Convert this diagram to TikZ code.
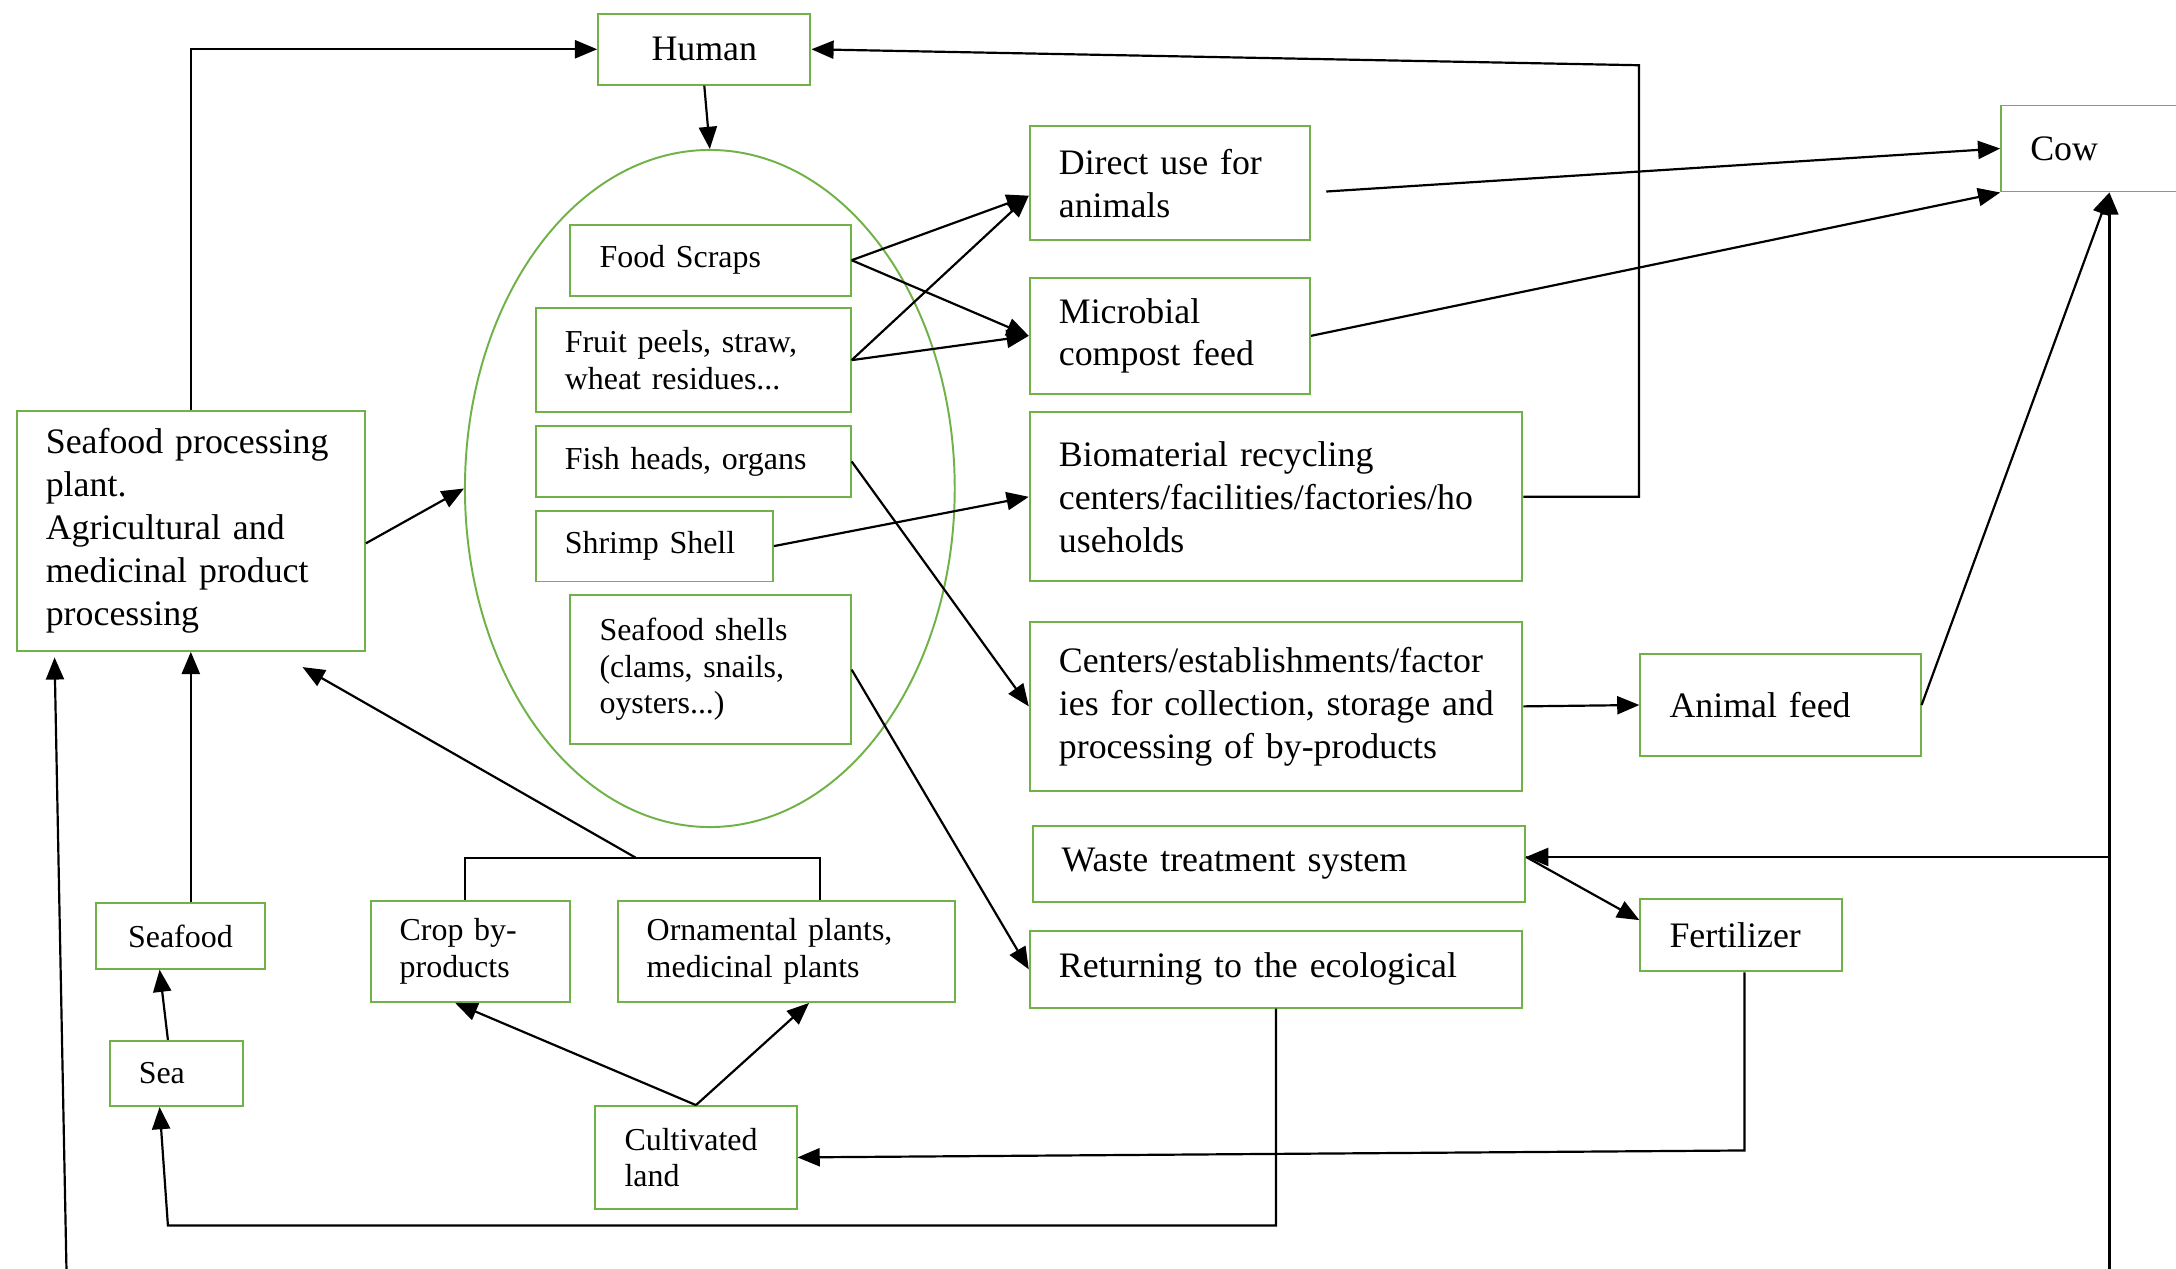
\documentclass[tikz,border=0pt]{standalone}
\usepackage{fontspec}
\setmainfont{Liberation Serif}
\usetikzlibrary{arrows.meta,shapes.geometric}
\definecolor{boxgreen}{RGB}{112,178,72}
\tikzset{
  box/.style={draw=boxgreen,line width=0.8pt,align=left,inner xsep=0.42cm,inner ysep=0pt,
    font=\fontsize{14.7}{17.6}\selectfont},
  sbox/.style={box,font=\fontsize{13.1}{15}\selectfont},
  arr/.style={line width=0.9pt,-{Triangle[length=3.2mm,width=2.6mm]}},
  link/.style={line width=0.9pt}
}

\begin{document}
\begin{tikzpicture}[x=0.02cm,y=-0.02cm]
\useasboundingbox (0,0) rectangle (1568,914);
\clip (0,0) rectangle (1568,914);
\node[box,minimum width=3.06cm,minimum height=1.02cm] (human) at (507.5,35.5) {Human};
\node[draw=boxgreen,line width=0.8pt,ellipse,minimum width=7.06cm,minimum height=9.76cm,inner sep=0pt] (bag) at (511.5,352) {};
\node[sbox,minimum width=4.04cm,minimum height=1.02cm,text width=3.2cm] (food) at (512,187.5) {Food Scraps};
\node[sbox,minimum width=4.54cm,minimum height=1.5cm,text width=3.7cm] (fruit) at (499.5,259.5) {Fruit peels, straw,\\wheat residues...};
\node[sbox,minimum width=4.54cm,minimum height=1.02cm,text width=3.7cm] (fish) at (499.5,332.5) {Fish heads, organs};
\node[sbox,minimum width=3.42cm,minimum height=1.02cm,text width=2.58cm] (shrimp) at (471.5,393.5) {Shrimp Shell};
\node[sbox,minimum width=4.04cm,minimum height=2.14cm,text width=3.2cm] (shells) at (512,482.5) {Seafood shells\\(clams, snails,\\oysters...)};

\node[box,minimum width=5.02cm,minimum height=3.46cm,text width=4.18cm] (plant) at (137.5,382.5)
  {Seafood processing\\plant.\\Agricultural and\\medicinal product\\processing};
\node[sbox,minimum width=2.44cm,minimum height=0.94cm] (seafood) at (130,674.5) {Seafood};
\node[sbox,minimum width=1.92cm,minimum height=0.94cm,text width=1.08cm] (sea) at (127,773.5) {Sea};
\node[sbox,minimum width=2.88cm,minimum height=1.46cm,text width=2.04cm] (crop) at (339,685.5) {Crop by-\\products};
\node[sbox,minimum width=4.86cm,minimum height=1.46cm,text width=4.02cm] (orn) at (566.5,685.5) {Ornamental plants,\\medicinal plants};
\node[sbox,minimum width=2.9cm,minimum height=1.48cm,text width=2.06cm] (land) at (501.5,834) {Cultivated\\land};

\node[box,minimum width=4.04cm,minimum height=1.64cm,text width=3.2cm] (direct) at (843,132) {Direct use for\\animals};
\node[box,minimum width=4.04cm,minimum height=1.68cm,text width=3.2cm] (microbe) at (843,242) {Microbial\\compost feed};
\node[box,minimum width=7.1cm,minimum height=2.44cm,text width=6.26cm] (bio) at (919.5,358)
  {Biomaterial recycling\\centers/facilities/factories/ho\\useholds};
\node[box,minimum width=7.1cm,minimum height=2.44cm,text width=6.26cm] (centers) at (919.5,509)
  {Centers/establishments/factor\\\mbox{ies for collection, storage and}\\processing of by-products};
\node[box,minimum width=7.1cm,minimum height=1.1cm,text width=6.26cm] (waste) at (921.5,622.5) {Waste treatment system};
\node[box,minimum width=7.1cm,minimum height=1.1cm,text width=6.26cm] (back) at (919.5,698.5) {Returning to the ecological};
\node[box,minimum width=3.12cm,minimum height=1.24cm,text width=2.28cm] (cow) at (1520,107) {Cow};
\node[box,minimum width=4.04cm,minimum height=1.48cm,text width=3.2cm] (feed) at (1283,508) {Animal feed};
\node[box,minimum width=2.9cm,minimum height=1.04cm,text width=2.06cm] (fert) at (1254.5,674) {Fertilizer};

\coordinate (turn) at (1181,47);
\coordinate (fc) at (1257,829);
\coordinate (sc) at (121,883);
\coordinate (join) at (458,618);
\coordinate (lb) at (48,920);
\coordinate (rb) at (1520,920);
\coordinate (wt) at ([yshift=0.1cm]waste.east);

\draw[arr] (plant.north) |- (human.west);
\draw[arr] (human.south) -- (bag.north);
\draw[arr] ([yshift=-0.18cm]plant.east) -- (bag.west);
\draw[arr] (bio.east) -| (turn) -- (human.east);
\draw[arr] (food.east) -- ([yshift=-0.18cm]direct.west);
\draw[arr] (food.east) -- (microbe.west);
\draw[arr] (fruit.east) -- ([yshift=-0.18cm]direct.west);
\draw[arr] (fruit.east) -- (microbe.west);
\draw[arr] ([xshift=0.22cm,yshift=-0.12cm]direct.east) -- (cow.west);
\draw[arr] (microbe.east) -- (cow.south west);
\draw[arr] (fish.east) -- (centers.west);
\draw[arr] (shrimp.east) -- (bio.west);
\draw[arr] (shells.east) -- (back.west);
\draw[arr] (centers.east) -- (feed.west);
\draw[arr] (feed.east) -- (cow.south);
\draw[arr] (rb) -- (cow.south);
\draw[arr] (rb |- wt) -- (wt);
\draw[arr] (wt) -- ([yshift=0.22cm]fert.west);
\draw[arr] (fc |- fert.south) -- (fc) -- (land.east);
\draw[arr] (back.south) |- (sc) -- ([xshift=-0.24cm]sea.south);
\draw[arr] ([xshift=-0.12cm]sea.north) -- ([xshift=-0.3cm]seafood.south);
\draw[arr] (seafood.north -| plant.south) -- (plant.south);
\draw[arr] (land.north) -- ([xshift=-0.22cm]crop.south);
\draw[arr] (land.north) -- ([xshift=0.33cm]orn.south);
\draw[link] ([xshift=-0.08cm]crop.north) |- (join) -| ([xshift=0.49cm]orn.north);
\draw[arr] (join) -- ([shift={(1.61cm,-0.22cm)}]plant.south);
\draw[arr] (lb) -- ([shift={(0.56cm,-0.08cm)}]plant.south west);
\end{tikzpicture}
\end{document}
